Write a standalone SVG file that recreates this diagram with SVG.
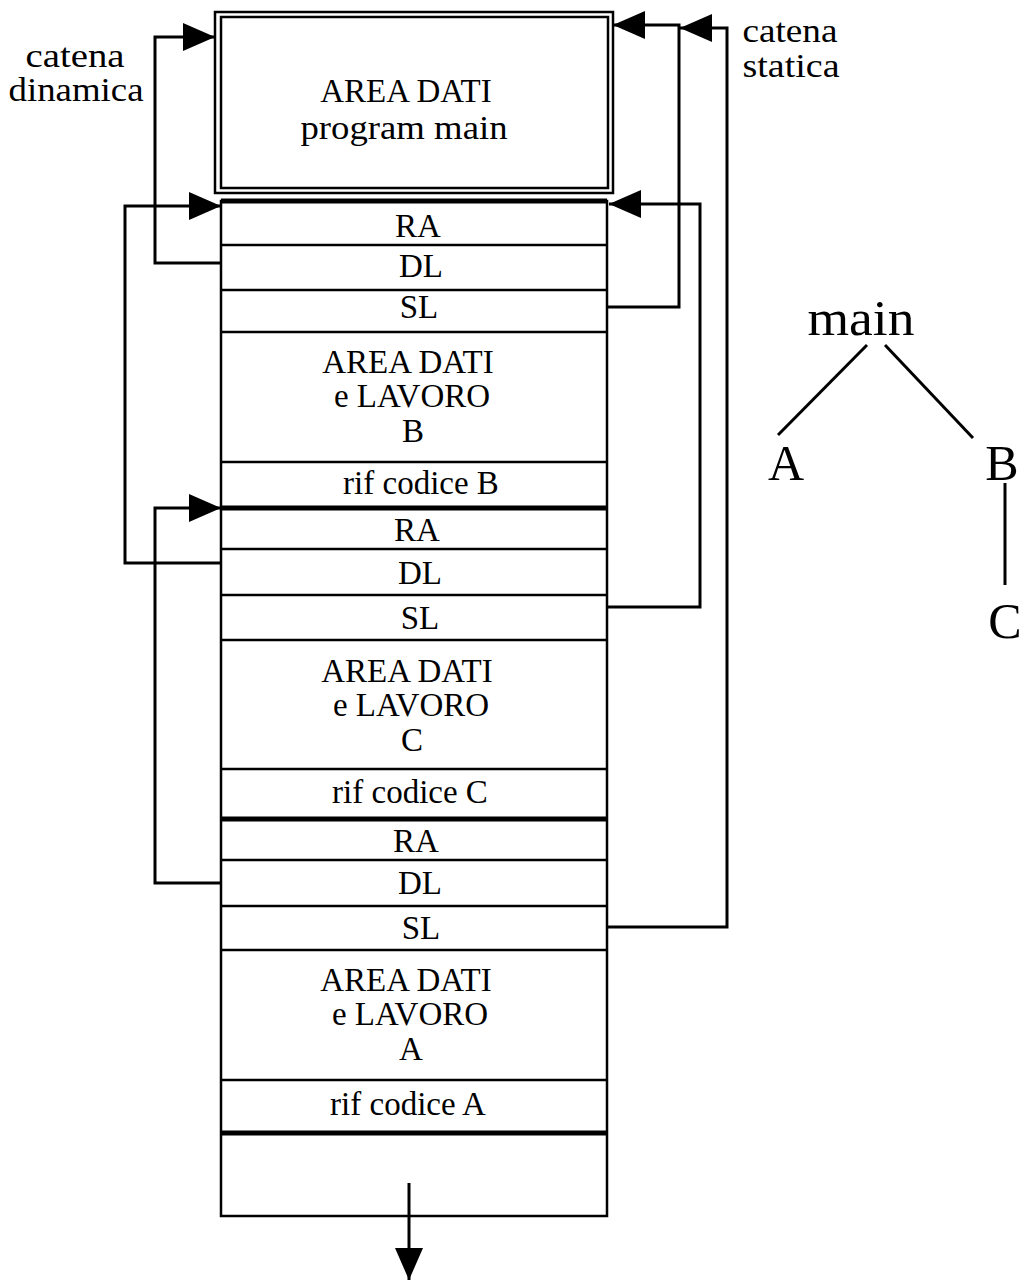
<svg xmlns="http://www.w3.org/2000/svg" width="1024" height="1280" viewBox="0 0 1024 1280">
<style>
text{font-family:"Liberation Serif","Times New Roman",serif;fill:#000;text-anchor:middle;font-size:33px}
.box{fill:none;stroke:#000;stroke-width:2.5}
.sep{stroke:#000;stroke-width:2.5}
.thick{stroke:#000;stroke-width:5}
.conn{fill:none;stroke:#000;stroke-width:3;marker-end:url(#ah)}
.tree{stroke:#000;stroke-width:3}
.big{font-size:50px}
</style>
<defs>
<marker id="ah" viewBox="0 0 32 28" refX="32" refY="14" markerWidth="32" markerHeight="28" orient="auto" markerUnits="userSpaceOnUse">
<path d="M0,0 L32,14 L0,28 Z" fill="#000"/>
</marker>
</defs>
<rect width="1024" height="1280" fill="#fff"/>
<g id="main-area">
<rect class="box" x="215" y="12" width="398" height="181"/>
<rect class="box" x="221" y="17" width="387" height="171"/>
<text x="406" y="102">AREA DATI</text>
<text x="404" y="139" textLength="207" lengthAdjust="spacingAndGlyphs">program main</text>
</g>
<g id="stack">
<rect class="box" x="221" y="201" width="386" height="1015"/>
<line class="thick" x1="221" y1="201" x2="607" y2="201"/>
</g>
<g id="frame-B">
<line class="sep" x1="221" y1="245" x2="607" y2="245"/>
<line class="sep" x1="221" y1="290" x2="607" y2="290"/>
<line class="sep" x1="221" y1="332" x2="607" y2="332"/>
<line class="sep" x1="221" y1="462" x2="607" y2="462"/>
<text x="418" y="237">RA</text>
<text x="421" y="277">DL</text>
<text x="419" y="318">SL</text>
<text x="408" y="373">AREA DATI</text>
<text x="412" y="407">e LAVORO</text>
<text x="413" y="442">B</text>
<text x="421" y="494">rif codice B</text>
</g>
<g id="frame-C">
<line class="thick" x1="221" y1="508" x2="607" y2="508"/>
<line class="sep" x1="221" y1="549" x2="607" y2="549"/>
<line class="sep" x1="221" y1="595" x2="607" y2="595"/>
<line class="sep" x1="221" y1="640" x2="607" y2="640"/>
<line class="sep" x1="221" y1="769" x2="607" y2="769"/>
<text x="417" y="541">RA</text>
<text x="420" y="584">DL</text>
<text x="420" y="629">SL</text>
<text x="407" y="682">AREA DATI</text>
<text x="411" y="716">e LAVORO</text>
<text x="412" y="751">C</text>
<text x="410" y="803">rif codice C</text>
</g>
<g id="frame-A">
<line class="thick" x1="221" y1="819" x2="607" y2="819"/>
<line class="sep" x1="221" y1="860" x2="607" y2="860"/>
<line class="sep" x1="221" y1="906" x2="607" y2="906"/>
<line class="sep" x1="221" y1="950" x2="607" y2="950"/>
<line class="sep" x1="221" y1="1080" x2="607" y2="1080"/>
<text x="416" y="852">RA</text>
<text x="420" y="894">DL</text>
<text x="421" y="939">SL</text>
<text x="406" y="991">AREA DATI</text>
<text x="410" y="1025">e LAVORO</text>
<text x="411" y="1060">A</text>
<text x="408" y="1115">rif codice A</text>
</g>
<g id="free-area">
<line class="thick" x1="221" y1="1133" x2="607" y2="1133"/>
</g>
<g id="labels">
<text x="75" y="67" textLength="99" lengthAdjust="spacingAndGlyphs">catena</text>
<text x="76" y="101" textLength="135" lengthAdjust="spacingAndGlyphs">dinamica</text>
<text x="790" y="42" textLength="95" lengthAdjust="spacingAndGlyphs">catena</text>
<text x="791" y="77" textLength="97" lengthAdjust="spacingAndGlyphs">statica</text>
</g>
<g id="tree">
<g id="tree-main"><text class="big" x="861" y="335" textLength="107" lengthAdjust="spacingAndGlyphs">main</text></g>
<g id="tree-A"><text class="big" x="786" y="480">A</text></g>
<g id="tree-B"><text class="big" x="1002" y="480">B</text></g>
<g id="tree-C"><text class="big" x="1005" y="638">C</text></g>
<g id="tree-edges">
<line class="tree" x1="867" y1="345" x2="778" y2="435"/>
<line class="tree" x1="885" y1="345" x2="973" y2="438"/>
<line class="tree" x1="1005" y1="483" x2="1005" y2="585"/>
</g>
</g>
<g id="connectors">
<polyline class="conn" points="221,263 155,263 155,37 215,37"/>
<polyline class="conn" points="221,563 125,563 125,206 221,206"/>
<polyline class="conn" points="221,883 155,883 155,508 221,508"/>
<polyline class="conn" points="607,307 679,307 679,25 613,25"/>
<polyline class="conn" points="607,607 700,607 700,204 609,204"/>
<polyline class="conn" points="607,927 727,927 727,28 680,28"/>
<line class="conn" x1="409" y1="1183" x2="409" y2="1280"/>
</g>
</svg>
